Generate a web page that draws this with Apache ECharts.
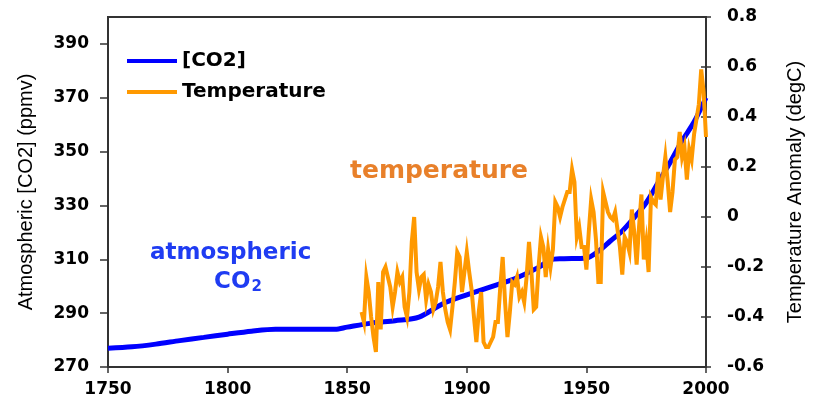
<!DOCTYPE html>
<html>
<head>
<meta charset="utf-8">
<script src="https://cdn.jsdelivr.net/npm/echarts@6/dist/echarts.min.js"></script>
<style>
  html, body { margin: 0; padding: 0; background: #fff; }
  #chart { width: 813px; height: 407px; }
</style>
</head>
<body>
<div id="chart"></div>
<script>
// Atmospheric CO2 concentration (ppmv)
const co2Years = [1750, 1760, 1770, 1780, 1790, 1800, 1810, 1820, 1830, 1840, 1845, 1850, 1860, 1870, 1880, 1890, 1900, 1910, 1920, 1930, 1935, 1940, 1950, 1955, 1960, 1965, 1970, 1975, 1980, 1985, 1990, 1995, 2000];
const co2Values = [277, 277.5, 278.5, 279.8, 281, 282.2, 283.3, 284, 284, 284, 284, 284.8, 286.3, 287.2, 288.5, 293.5, 296.8, 299.8, 302.8, 307, 309.8, 310.2, 310.5, 313, 316.8, 320.5, 325.5, 331, 338.5, 346, 354, 361, 370];

// Global temperature anomaly (degC), one value per year from 1856
const tempStartYear = 1856;
const tempValues = [
  -0.38, -0.42, -0.24, -0.30, -0.40, -0.48, -0.54, -0.26, -0.45, -0.22,
  -0.20, -0.24, -0.28, -0.36, -0.30, -0.22, -0.26, -0.24, -0.36, -0.40,
  -0.30, -0.10,  0.00, -0.22, -0.29, -0.24, -0.23, -0.33, -0.27, -0.30,
  -0.37, -0.34, -0.28, -0.18, -0.30, -0.37, -0.42, -0.45, -0.36, -0.26,
  -0.14, -0.16, -0.30, -0.22, -0.14, -0.22, -0.29, -0.40, -0.50, -0.38,
  -0.30, -0.50, -0.52, -0.52, -0.50, -0.48, -0.42, -0.42, -0.28, -0.16,
  -0.34, -0.48, -0.38, -0.26, -0.27, -0.24, -0.32, -0.30, -0.34, -0.24,
  -0.10, -0.22, -0.37, -0.36, -0.20, -0.08, -0.12, -0.24, -0.13, -0.20,
  -0.13,  0.06,  0.04,  0.00,  0.04,  0.07,  0.10,  0.10,  0.19,  0.14,
  -0.08, -0.04, -0.12, -0.12, -0.21, -0.06,  0.07,  0.02, -0.09, -0.26,
  -0.26,  0.10,  0.06,  0.02,  0.00, -0.01,  0.02, -0.05, -0.12, -0.23,
  -0.08, -0.10, -0.14,  0.03, -0.06, -0.19, -0.04,  0.09, -0.17, -0.10,
  -0.22,  0.08,  0.06,  0.05,  0.18,  0.07,  0.16,  0.24,  0.14,  0.02,
   0.10,  0.23,  0.24,  0.34,  0.24,  0.28,  0.15,  0.27,  0.23,  0.33,
   0.39,  0.45,  0.59,  0.50,  0.32
];

// Axis tick values
const yearTicks = [1750, 1800, 1850, 1900, 1950, 2000];
const co2Ticks = [270, 290, 310, 330, 350, 370, 390];
const tempTicks = [-0.6, -0.4, -0.2, 0, 0.2, 0.4, 0.6, 0.8];

const co2Data = co2Years.map((y, i) => [y, co2Values[i]]);
const tempData = tempValues.map((v, i) => [tempStartYear + i, v]);

const BLUE = '#0000ff';
const ORANGE = '#ff9900';
const AXIS = '#333333';
const tickFont = { fontFamily: 'DejaVu Sans', fontWeight: 'bold', fontSize: 17, color: '#000' };

const chart = echarts.init(document.getElementById('chart'), null, { renderer: 'canvas' });
chart.setOption({
  animation: false,
  backgroundColor: '#fff',
  grid: {
    left: 108, right: 104, top: 17, bottom: 40,
    show: true, borderColor: AXIS, borderWidth: 2, backgroundColor: 'transparent'
  },
  legend: {
    orient: 'vertical',
    left: 122, top: 46,
    itemWidth: 50, itemHeight: 20, itemGap: 11,
    textStyle: { fontFamily: 'DejaVu Sans', fontWeight: 'bold', fontSize: 20, color: '#000', lineHeight: 20 },
    data: [
      { name: '[CO2]', icon: 'path://M0,0 L50,0 L50,4 L0,4 Z', itemStyle: { color: BLUE } },
      { name: 'Temperature', icon: 'path://M0,0 L50,0 L50,4 L0,4 Z', itemStyle: { color: ORANGE } }
    ]
  },
  xAxis: {
    type: 'value', min: 1750, max: 2000, interval: 50,
    axisLine: { show: true, onZero: false, lineStyle: { color: AXIS, width: 2 } },
    axisTick: { show: true, length: 6, lineStyle: { color: AXIS, width: 1.5 }, customValues: yearTicks },
    axisLabel: Object.assign({ margin: 14, customValues: yearTicks, formatter: v => String(v) }, tickFont),
    splitLine: { show: false }
  },
  yAxis: [
    {
      type: 'value', min: 270, max: 400, position: 'left',
      name: 'Atmospheric [CO2] (ppmv)', nameLocation: 'middle', nameGap: 72, nameRotate: 90,
      nameTextStyle: { fontFamily: 'Liberation Sans', fontSize: 20, color: '#000' },
      axisLine: { show: true, onZero: false, lineStyle: { color: AXIS, width: 2 } },
      axisTick: { show: true, length: 8, lineStyle: { color: AXIS, width: 1.5 }, customValues: co2Ticks },
      axisLabel: Object.assign({ margin: 19, customValues: co2Ticks, formatter: v => String(v) }, tickFont),
      splitLine: { show: false }
    },
    {
      type: 'value', min: -0.6, max: 0.8, interval: 0.2, position: 'right',
      name: 'Temperature Anomaly (degC)', nameLocation: 'middle', nameGap: 79, nameRotate: 90,
      nameTextStyle: { fontFamily: 'Liberation Sans', fontSize: 20, color: '#000' },
      axisLine: { show: true, onZero: false, lineStyle: { color: AXIS, width: 2 } },
      axisTick: { show: true, length: 5, lineStyle: { color: AXIS, width: 1.5 }, customValues: tempTicks },
      axisLabel: Object.assign({
        margin: 21, customValues: tempTicks,
        formatter: v => (Math.abs(v) < 1e-9 ? '0' : v.toFixed(1))
      }, tickFont),
      splitLine: { show: false }
    },
    {
      // inner half of the crossing ticks on the temperature axis
      type: 'value', min: -0.6, max: 0.8, position: 'right',
      axisLine: { show: false, onZero: false },
      axisTick: { show: true, inside: true, length: 5, lineStyle: { color: AXIS, width: 1.5 }, customValues: tempTicks },
      axisLabel: { show: false },
      splitLine: { show: false }
    }
  ],
  series: [
    {
      name: '[CO2]', type: 'line', yAxisIndex: 0, data: co2Data,
      symbol: 'none', smooth: 0.3,
      lineStyle: { color: BLUE, width: 5 }, itemStyle: { color: BLUE }, z: 2
    },
    {
      name: 'Temperature', type: 'line', yAxisIndex: 1, data: tempData,
      symbol: 'none',
      lineStyle: { color: ORANGE, width: 4, join: 'miter' }, itemStyle: { color: ORANGE }, z: 3
    }
  ],
  graphic: [
    {
      type: 'text', left: 350, top: 159, z: 10,
      style: { text: 'temperature', fill: '#e8802a', font: 'bold 25px "DejaVu Sans"' }
    },
    {
      type: 'text', left: 150, top: 242, z: 10,
      style: { text: 'atmospheric', fill: '#1f3cf2', font: 'bold 23px "DejaVu Sans"' }
    },
    {
      type: 'text', left: 214, top: 271, z: 10,
      style: {
        text: '{a|CO}{b|2}', fill: '#1f3cf2',
        rich: {
          a: { font: 'bold 23px "DejaVu Sans"', fill: '#1f3cf2' },
          b: { font: 'bold 15px "DejaVu Sans"', fill: '#1f3cf2', padding: [10, 0, 0, 1] }
        }
      }
    }
  ]
});
</script>
</body>
</html>
